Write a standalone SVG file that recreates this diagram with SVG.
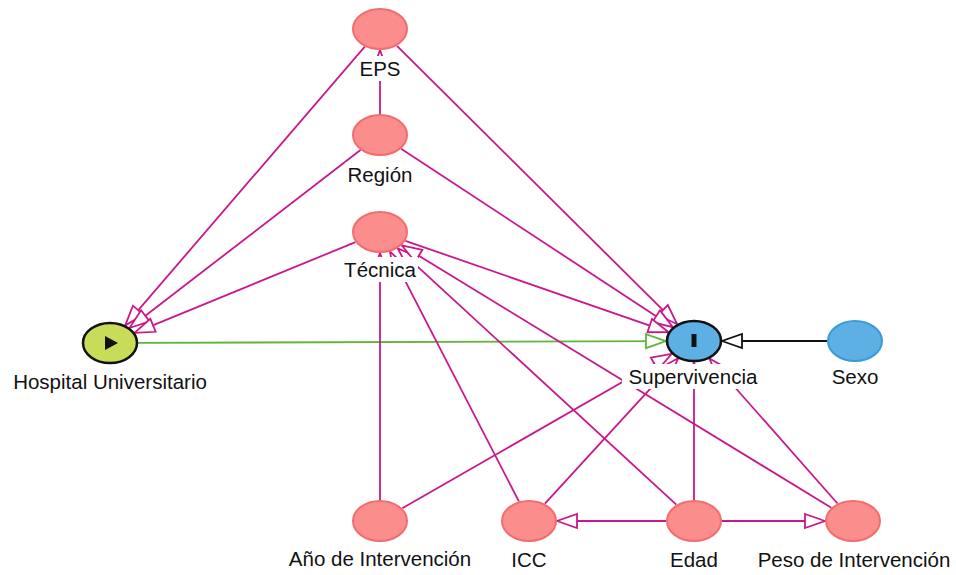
<svg xmlns="http://www.w3.org/2000/svg" width="956" height="575" viewBox="0 0 956 575">
<style>
.e{fill:none;stroke:#c8188c;stroke-width:1.8;marker-end:url(#am)}
.g{fill:none;stroke:#5fb43a;stroke-width:1.8;marker-end:url(#ag)}
.k{fill:none;stroke:#111;stroke-width:1.8;marker-end:url(#ak)}
.pk{fill:#fb8d8d;stroke:#f26d6d;stroke-width:2}
.bl{fill:#5db0e3;stroke:#3b9ad8;stroke-width:2}
.out{fill:#5db0e3;stroke:#111;stroke-width:2.5}
.exp{fill:#c8dc5a;stroke:#111;stroke-width:2.5}
.bg{fill:#fff}
text{font-family:"Liberation Sans",Arial,Helvetica,sans-serif;font-size:20.5px;fill:#111;text-anchor:middle}
</style>
<defs>
<marker id="am" markerUnits="userSpaceOnUse" markerWidth="26" markerHeight="20" viewBox="0 0 26 20" refX="23" refY="10" orient="auto"><path d="M23,10 L3,3 L3,17 Z" fill="#fff" stroke="#c8188c" stroke-width="1.8"/></marker>
<marker id="ag" markerUnits="userSpaceOnUse" markerWidth="26" markerHeight="20" viewBox="0 0 26 20" refX="23" refY="10" orient="auto"><path d="M23,10 L3,3 L3,17 Z" fill="#fff" stroke="#5fb43a" stroke-width="1.8"/></marker>
<marker id="ak" markerUnits="userSpaceOnUse" markerWidth="26" markerHeight="20" viewBox="0 0 26 20" refX="23" refY="10" orient="auto"><path d="M23,10 L3,3 L3,17 Z" fill="#fff" stroke="#111" stroke-width="1.8"/></marker>
</defs>
<g id="connectors">
<line class="e" x1="364.8" y1="46.6" x2="125.2" y2="325.4"/>
<line class="e" x1="360.5" y1="150" x2="129.5" y2="328"/>
<line class="e" x1="355.5" y1="242.1" x2="134.5" y2="332.9"/>
<line class="e" x1="396.9" y1="45.8" x2="677.1" y2="324.2"/>
<line class="e" x1="401.1" y1="148.8" x2="672.9" y2="327.2"/>
<line class="e" x1="405.4" y1="240.8" x2="668.6" y2="332.2"/>
<line class="g" x1="138" y1="342.9" x2="666" y2="341.1"/>
<line class="k" x1="827" y1="341" x2="722" y2="341"/>
<line class="e" x1="380" y1="114" x2="380" y2="50"/>
<line class="e" x1="380" y1="500" x2="380" y2="253"/>
<line class="e" x1="518.9" y1="501.4" x2="390.1" y2="251.6"/>
<line class="e" x1="676.3" y1="504.7" x2="397.7" y2="248.3"/>
<line class="e" x1="831.3" y1="507.7" x2="401.7" y2="245.3"/>
<line class="e" x1="402.3" y1="508.2" x2="671.7" y2="353.8"/>
<line class="e" x1="544.9" y1="503.7" x2="678.1" y2="358.3"/>
<line class="e" x1="694" y1="500" x2="694" y2="362"/>
<line class="e" x1="837.5" y1="503.5" x2="709.5" y2="358.5"/>
<line class="e" x1="666" y1="521" x2="557" y2="521"/>
<line class="e" x1="722" y1="521" x2="825" y2="521"/>
</g>
<g id="eps"><ellipse class="pk" cx="380" cy="29" rx="27" ry="20"/><rect class="bg" x="357.5" y="56" width="45" height="25"/><text x="380" y="76">EPS</text></g>
<g id="region"><ellipse class="pk" cx="380" cy="135" rx="27" ry="20"/><rect class="bg" x="345.5" y="162" width="69" height="25"/><text x="380" y="182">Región</text></g>
<g id="tecnica"><ellipse class="pk" cx="380" cy="232" rx="27" ry="20"/><rect class="bg" x="342" y="257" width="76" height="25"/><text x="380" y="277">Técnica</text></g>
<g id="hospital"><ellipse class="exp" cx="110" cy="343" rx="27" ry="20"/><path d="M105,336 L105,350 L118,343 Z" fill="#111"/><rect class="bg" x="11" y="369" width="198" height="25"/><text x="110" y="389">Hospital Universitario</text></g>
<g id="supervivencia"><ellipse class="out" cx="694" cy="341" rx="27" ry="20"/><rect x="691.5" y="334" width="5" height="13" fill="#111"/><rect class="bg" x="622" y="364" width="143" height="25"/><text x="693" y="384">Supervivencia</text></g>
<g id="sexo"><ellipse class="bl" cx="855" cy="341" rx="27" ry="20"/><rect class="bg" x="830" y="364" width="50" height="25"/><text x="855" y="384">Sexo</text></g>
<g id="ano"><ellipse class="pk" cx="380" cy="521" rx="27" ry="20"/><rect class="bg" x="287" y="546" width="186" height="25"/><text x="380" y="566">Año de Intervención</text></g>
<g id="icc"><ellipse class="pk" cx="529" cy="521" rx="27" ry="20"/><rect class="bg" x="509" y="547" width="40" height="25"/><text x="529" y="567">ICC</text></g>
<g id="edad"><ellipse class="pk" cx="694" cy="521" rx="27" ry="20"/><rect class="bg" x="668" y="547" width="52" height="25"/><text x="694" y="567">Edad</text></g>
<g id="peso"><ellipse class="pk" cx="853" cy="521" rx="27" ry="20"/><rect class="bg" x="756" y="547" width="196" height="25"/><text x="854" y="567">Peso de Intervención</text></g>
</svg>
